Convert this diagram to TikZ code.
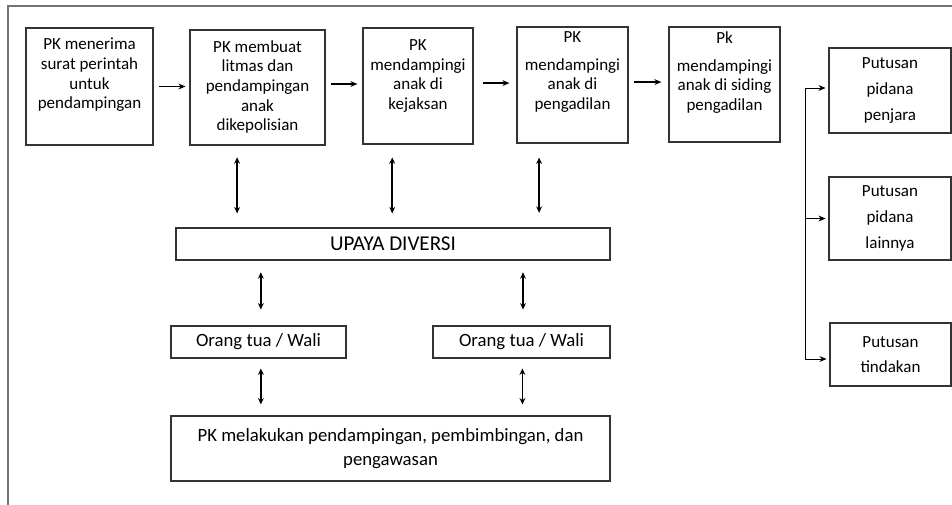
\documentclass[tikz,border=0pt]{standalone}
\usepackage{fontspec}
\setmainfont{Carlito}
\usetikzlibrary{arrows.meta}

\begin{document}
\begin{tikzpicture}[
    x=0.03cm, y=-0.03cm,
    box/.style={rectangle, draw=black!80, line width=0.9pt, inner sep=0pt},
    toptext/.style={anchor=north, align=center, inner sep=0pt, font=\fontsize{14.5}{16.8}\selectfont},
    verdict/.style={box, align=center, font=\fontsize{14.5}{22}\selectfont},
    wide/.style={box, align=center, font=\fontsize{16}{21}\selectfont},
    arrow/.style={-{Stealth[length=6pt,width=5pt]}, line width=1.1pt},
    twoway/.style={{Stealth[length=5.5pt,width=5pt]}-{Stealth[length=5.5pt,width=5pt]}, line width=1.4pt},
    forkline/.style={line width=0.8pt}
]
\useasboundingbox (0,0) rectangle (952,504);

% outer frame
\draw[black!55, line width=1.2pt] (8,6) rectangle (980,530);

% Stages of assistance
\node[box, minimum width=3.81cm, minimum height=3.51cm,
  label={[toptext, yshift=-9pt]north:PK menerima\\surat perintah\\untuk\\pendampingan}] (recv) at (89.5,86.5) {};
\node[box, minimum width=4.05cm, minimum height=3.45cm,
  label={[toptext, yshift=-9pt]north:PK membuat\\litmas dan\\pendampingan\\anak\\dikepolisian}] (litmas) at (257.5,87.5) {};
\node[box, minimum width=3.3cm, minimum height=3.48cm,
  label={[toptext, yshift=-10pt]north:PK\\mendampingi\\anak di\\kejaksan}] (jaksa) at (418,86) {};
\node[box, minimum width=3.33cm, minimum height=3.48cm,
  label={[toptext, yshift=-4pt]north:PK\\[7pt]mendampingi\\anak di\\pengadilan}] (adil) at (572.5,85) {};
\node[box, minimum width=3.33cm, minimum height=3.45cm,
  label={[toptext, yshift=-4pt]north:Pk\\[7pt]mendampingi\\anak di siding\\pengadilan}] (sidang) at (724.5,84.5) {};

% Verdicts
\node[verdict, minimum width=3.66cm, minimum height=2.55cm] (penjara) at (890,90.5) {Putusan\\pidana\\penjara};
\node[verdict, minimum width=3.66cm, minimum height=2.49cm] (lain) at (890,218.5) {Putusan\\pidana\\lainnya};
\node[verdict, minimum width=3.63cm, minimum height=1.89cm] (tindak) at (890.5,354.5) {Putusan\\tindakan};

% Diversion
\node[box, minimum width=13.02cm, minimum height=0.96cm, font=\fontsize{18}{20}\selectfont] (diversi) at (393,244) {UPAYA DIVERSI};
\node[wide, minimum width=5.25cm, minimum height=0.96cm] (ortua) at (258.5,342) {Orang tua / Wali};
\node[wide, minimum width=5.31cm, minimum height=0.96cm] (ortub) at (521.5,342) {Orang tua / Wali};
\node[wide, minimum width=13.17cm, minimum height=1.95cm] (bimbing) at (390.5,448.5) {PK melakukan pendampingan, pembimbingan, dan\\pengawasan};

% Arrows along the top row
\draw[arrow, shorten <=4.3pt, shorten >=3.4pt] (recv.east) -- (recv.east -| litmas.west);
\draw[arrow, shorten <=4.3pt, shorten >=4.3pt] ([yshift=3pt]litmas.east) -- ([yshift=3pt]litmas.east -| jaksa.west);
\draw[arrow, shorten <=7.7pt, shorten >=6pt] ([yshift=2.5pt]jaksa.east) -- ([yshift=2.5pt]jaksa.east -| adil.west);
\draw[arrow, shorten <=4.3pt, shorten >=6pt] ([yshift=2.5pt]adil.east) -- ([yshift=2.5pt]adil.east -| sidang.west);

% Two-way links to the diversion
\draw[twoway, shorten <=10pt, shorten >=12pt] ([xshift=-17.4pt]litmas.south) -- ([xshift=-17.4pt]litmas.south |- diversi.north);
\draw[twoway, shorten <=11pt, shorten >=12pt] ([xshift=-22pt]jaksa.south) -- ([xshift=-22pt]jaksa.south |- diversi.north);
\draw[twoway, shorten <=12pt, shorten >=12.5pt] ([xshift=-28.5pt]adil.south) -- ([xshift=-28.5pt]adil.south |- diversi.north);
\draw[twoway, shorten <=10pt, shorten >=13.6pt] ([xshift=2pt]ortua.north |- diversi.south) -- ([xshift=2pt]ortua.north);
\draw[twoway, shorten <=10pt, shorten >=13.6pt] ([xshift=1.3pt]ortub.north |- diversi.south) -- ([xshift=1.3pt]ortub.north);
\draw[twoway, shorten <=8.5pt, shorten >=9.4pt] ([xshift=2pt]ortua.south) -- ([xshift=2pt]ortua.south |- bimbing.north);
\draw[twoway, shorten <=8.5pt, shorten >=9.4pt] ([xshift=0.8pt]ortub.south) -- ([xshift=0.8pt]ortub.south |- bimbing.north);

% Fork to the verdicts
\coordinate (fork) at (805,88);
\coordinate (forkend) at (805,359);
\draw[forkline] (fork) -- (forkend);
\draw[arrow, forkline, shorten >=2.5pt] (fork) -- (fork -| penjara.west);
\draw[arrow, forkline, shorten >=2.5pt] (fork |- lain.west) -- (lain.west);
\draw[arrow, forkline, shorten >=2.5pt] (forkend) -- (forkend -| tindak.west);

\end{tikzpicture}
\end{document}
